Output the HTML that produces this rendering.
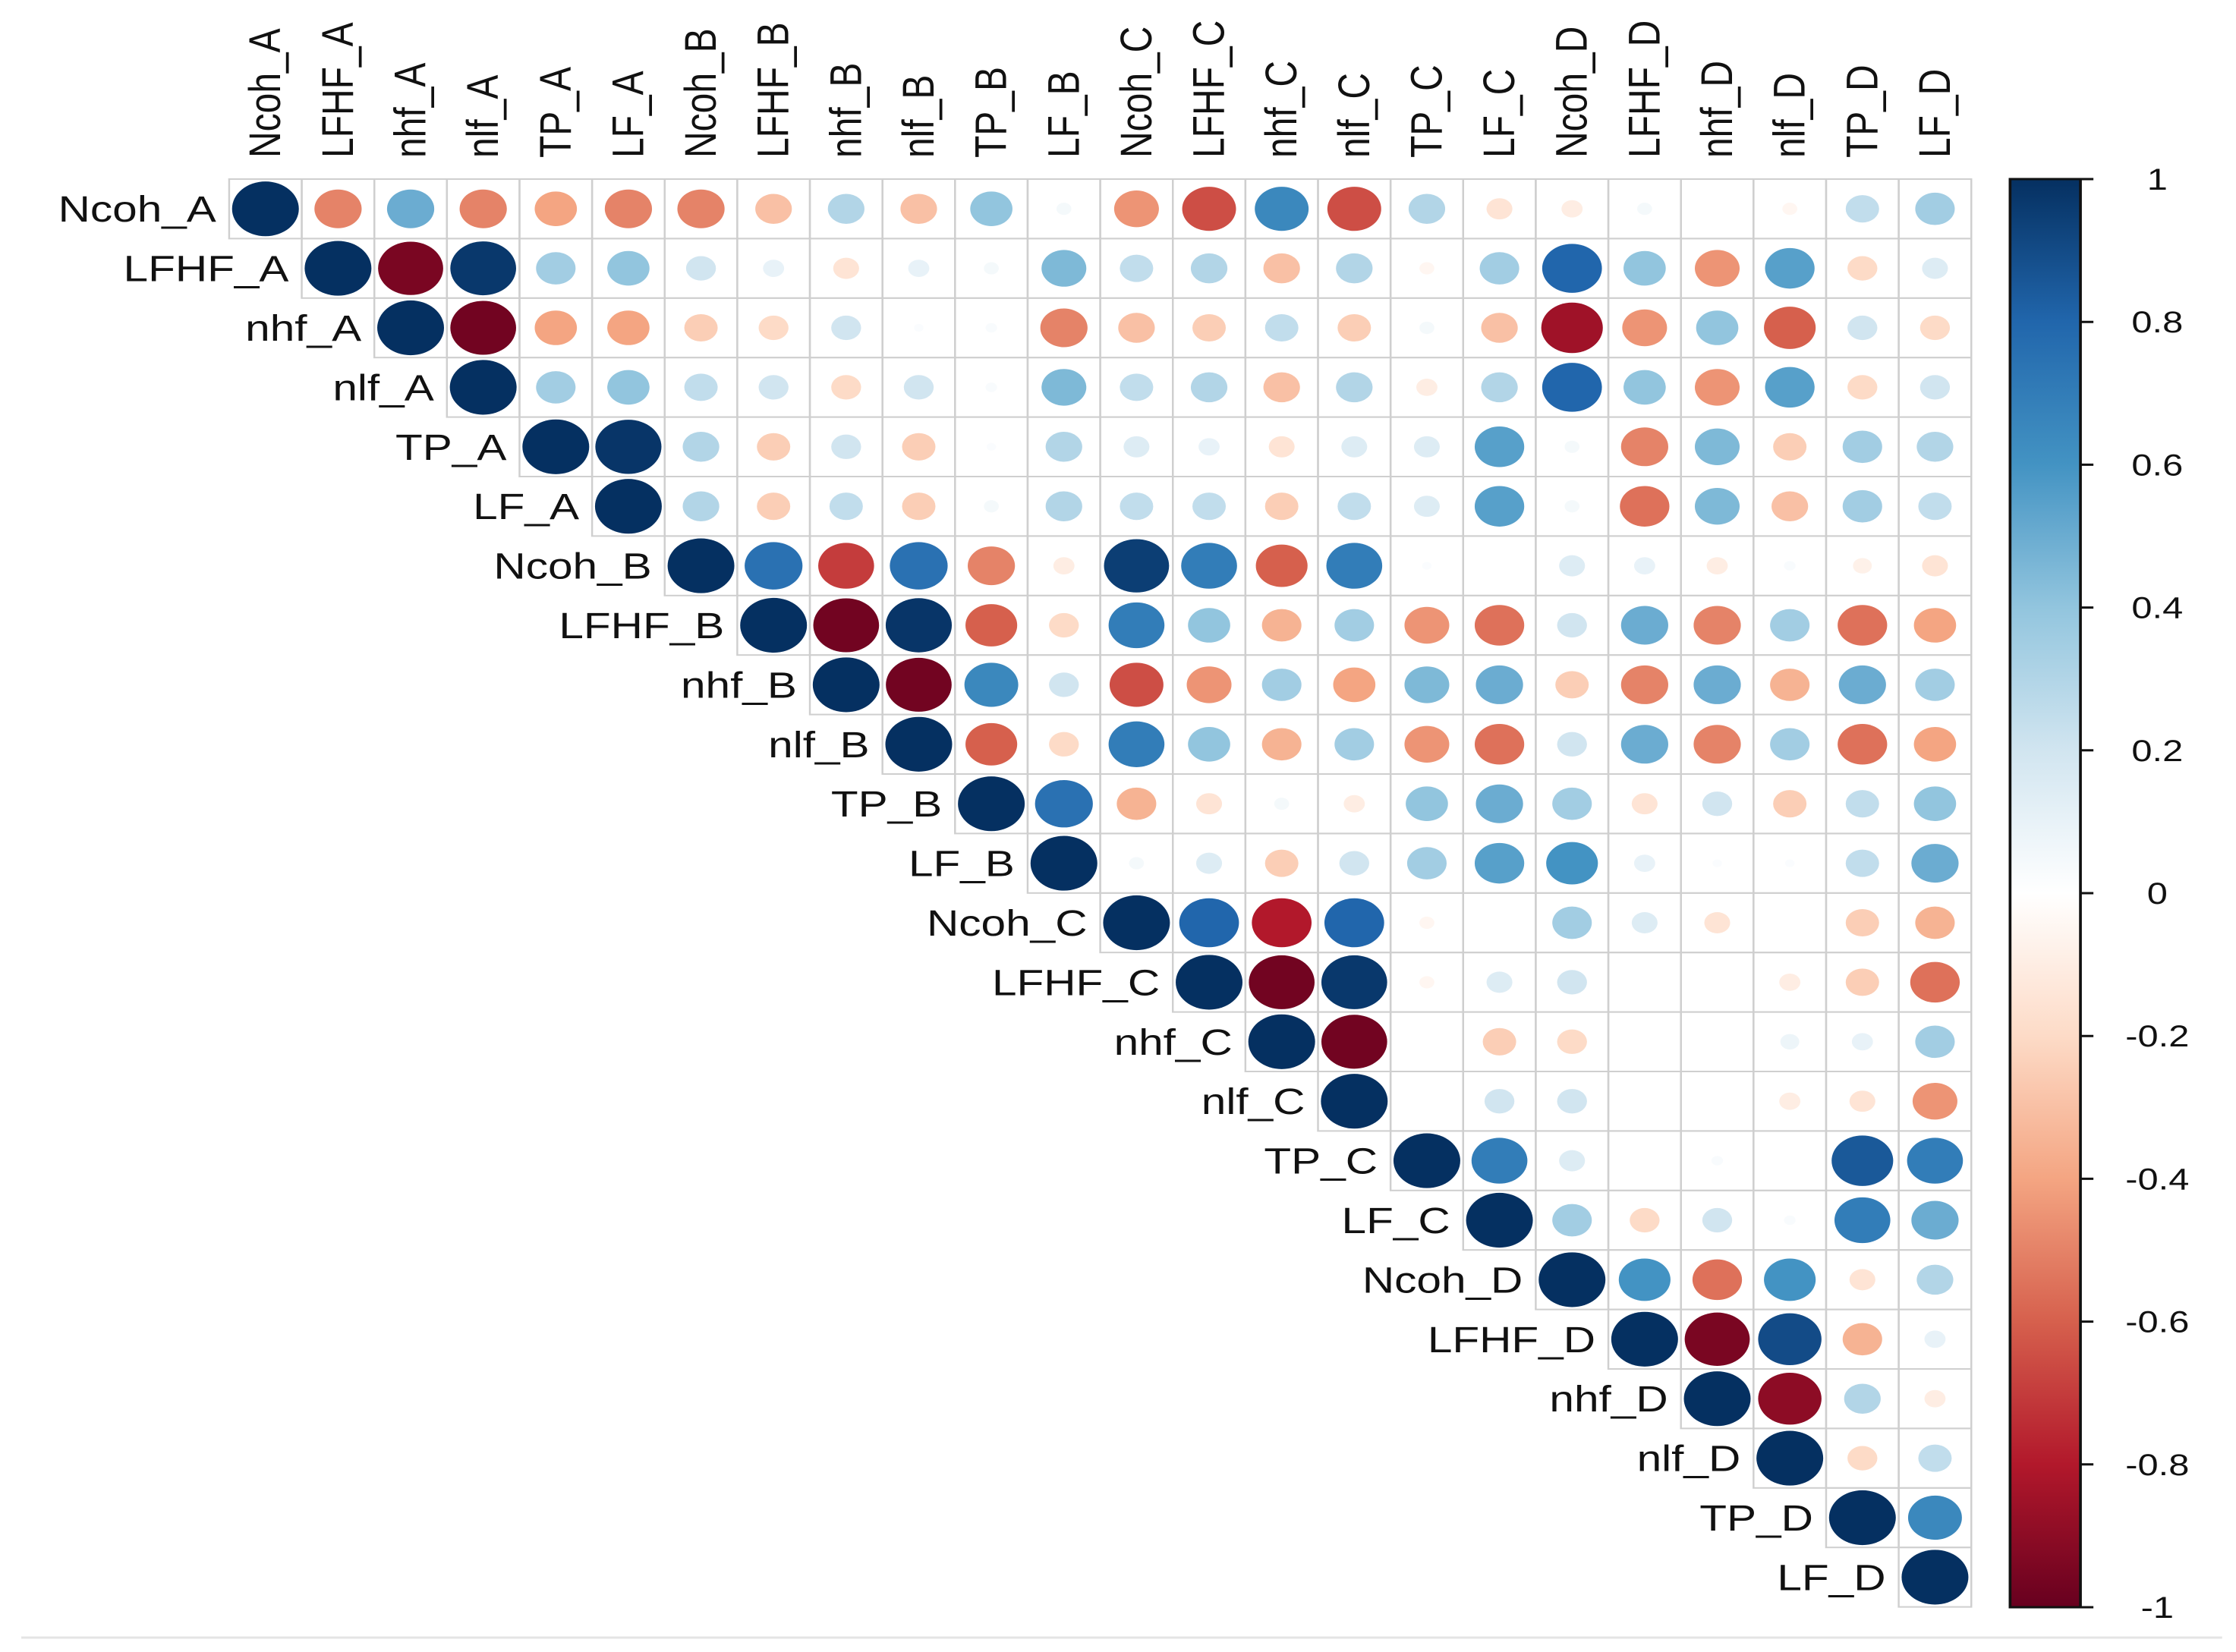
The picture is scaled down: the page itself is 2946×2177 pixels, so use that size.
<!DOCTYPE html>
<html><head><meta charset="utf-8"><style>
html,body{margin:0;padding:0;background:#fff;}
svg{display:block;}
</style></head><body>
<svg id="chart" width="2946" height="2177" viewBox="0 0 2415 2177" preserveAspectRatio="none" xmlns="http://www.w3.org/2000/svg" font-family="Liberation Sans, sans-serif">
<defs>
<linearGradient id="cbgrad" x1="0" y1="1" x2="0" y2="0">
<stop offset="0" stop-color="#67001F"/><stop offset="0.1" stop-color="#B2182B"/><stop offset="0.2" stop-color="#D6604D"/><stop offset="0.3" stop-color="#F4A582"/><stop offset="0.4" stop-color="#FDDBC7"/><stop offset="0.5" stop-color="#FFFFFF"/><stop offset="0.6" stop-color="#D1E5F0"/><stop offset="0.7" stop-color="#92C5DE"/><stop offset="0.8" stop-color="#4393C3"/><stop offset="0.9" stop-color="#2166AC"/><stop offset="1" stop-color="#053061"/>
</linearGradient>
</defs>
<g id="grid"></g>
<g id="marks"></g>
<g id="labels"></g>
<g id="colorbar"></g>
<line x1="23" y1="2158" x2="2400" y2="2158" stroke="#e4e4e4" stroke-width="3"/>
</svg>
<script>
const varNames = ["Ncoh_A","LFHF_A","nhf_A","nlf_A","TP_A","LF_A","Ncoh_B","LFHF_B","nhf_B","nlf_B","TP_B","LF_B","Ncoh_C","LFHF_C","nhf_C","nlf_C","TP_C","LF_C","Ncoh_D","LFHF_D","nhf_D","nlf_D","TP_D","LF_D"];
const row0 = [1,-0.5,0.5,-0.5,-0.4,-0.5,-0.5,-0.3,0.3,-0.3,0.4,0.05,-0.45,-0.65,0.65,-0.65,0.3,-0.15,-0.1,0.05,0,-0.05,0.25,0.35];
const row1 = [1,-0.95,0.97,0.35,0.4,0.2,0.1,-0.15,0.1,0.05,0.45,0.25,0.3,-0.3,0.3,-0.05,0.35,0.8,0.4,-0.45,0.55,-0.2,0.15];
const row2 = [1,-0.97,-0.4,-0.4,-0.25,-0.2,0.2,0.02,0.03,-0.5,-0.3,-0.25,0.25,-0.25,0.05,-0.3,-0.85,-0.45,0.4,-0.6,0.2,-0.2];
const row3 = [1,0.35,0.4,0.25,0.2,-0.2,0.2,0.03,0.45,0.25,0.3,-0.3,0.3,-0.1,0.3,0.8,0.4,-0.45,0.55,-0.2,0.2];
const row4 = [1,0.98,0.3,-0.25,0.2,-0.25,0.02,0.3,0.15,0.1,-0.15,0.15,0.15,0.55,0.05,-0.5,0.45,-0.25,0.35,0.3];
const row5 = [1,0.3,-0.25,0.25,-0.25,0.05,0.3,0.25,0.25,-0.25,0.25,0.15,0.55,0.05,-0.55,0.45,-0.3,0.35,0.25];
const row6 = [1,0.75,-0.7,0.75,-0.5,-0.1,0.95,0.7,-0.6,0.7,0.02,0,0.15,0.1,-0.1,0.03,-0.08,-0.15];
const row7 = [1,-0.97,0.98,-0.6,-0.2,0.7,0.4,-0.35,0.35,-0.45,-0.55,0.2,0.5,-0.5,0.35,-0.55,-0.4];
const row8 = [1,-0.97,0.65,0.2,-0.65,-0.45,0.35,-0.4,0.45,0.5,-0.25,-0.5,0.5,-0.35,0.5,0.35];
const row9 = [1,-0.6,-0.2,0.7,0.4,-0.35,0.35,-0.45,-0.55,0.2,0.5,-0.5,0.35,-0.55,-0.4];
const row10 = [1,0.75,-0.35,-0.15,0.05,-0.1,0.4,0.5,0.35,-0.15,0.2,-0.25,0.25,0.4];
const row11 = [1,0.05,0.15,-0.25,0.2,0.35,0.55,0.6,0.1,0.02,0.02,0.25,0.5];
const row12 = [1,0.8,-0.8,0.8,-0.05,0,0.35,0.15,-0.15,0,-0.25,-0.35];
const row13 = [1,-0.97,0.97,-0.05,0.15,0.2,0,0,-0.1,-0.25,-0.55];
const row14 = [1,-0.97,0,-0.25,-0.2,0,0,0.08,0.1,0.35];
const row15 = [1,0,0.2,0.2,0,0,-0.1,-0.15,-0.45];
const row16 = [1,0.7,0.15,0,0.03,0,0.85,0.7];
const row17 = [1,0.35,-0.2,0.2,0.03,0.7,0.5];
const row18 = [1,0.6,-0.55,0.6,-0.15,0.3];
const row19 = [1,-0.95,0.9,-0.35,0.1];
const row20 = [1,-0.9,0.3,-0.1];
const row21 = [1,-0.2,0.25];
const row22 = [1,0.65];
const row23 = [1];
const rows = [row0,row1,row2,row3,row4,row5,row6,row7,row8,row9,row10,row11,row12,row13,row14,row15,row16,row17,row18,row19,row20,row21,row22,row23];
const cbTicks = [1,0.8,0.6,0.4,0.2,0,-0.2,-0.4,-0.6,-0.8,-1];
const cbTickLabels = ["1","0.8","0.6","0.4","0.2","0","-0.2","-0.4","-0.6","-0.8","-1"];

const NS = "http://www.w3.org/2000/svg";
const gridLeft = 247.5, gridTop = 236, cell = 78.4;
function xPos(j){ return gridLeft + j*cell; }
function yPos(i){ return gridTop + i*cell; }
const pal = ["#67001F","#B2182B","#D6604D","#F4A582","#FDDBC7","#FFFFFF","#D1E5F0","#92C5DE","#4393C3","#2166AC","#053061"];
function hex(h){ return [1,3,5].map(k=>parseInt(h.substr(k,2),16)); }
function colorOf(v){
  const t = (Math.max(-1,Math.min(1,v))+1)/2*10;
  const i = Math.min(9,Math.floor(t)), f = t-i;
  const a = hex(pal[i]), b = hex(pal[i+1]);
  return "rgb("+a.map((c,k)=>Math.round(c+(b[k]-c)*f)).join(",")+")";
}
function mk(tag, attrs, parent){
  const el = document.createElementNS(NS, tag);
  for (const k in attrs) el.setAttribute(k, attrs[k]);
  parent.appendChild(el);
  return el;
}
const gGrid = document.getElementById("grid");
const gMarks = document.getElementById("marks");
const gLabels = document.getElementById("labels");
const gCb = document.getElementById("colorbar");

rows.forEach((vals, i) => {
  vals.forEach((v, k) => {
    const j = i + k;
    const r = mk("rect", {x:xPos(j), y:yPos(i), width:cell, height:cell, fill:"none", stroke:"#cfcfcf", "stroke-width":2}, gGrid);
    
    
    const rad = 0.46*cell*Math.sqrt(Math.abs(v));
    if (rad > 0.5) {
      const c = mk("circle", {cx:xPos(j)+cell/2, cy:yPos(i)+cell/2, r:rad, fill:colorOf(v)}, gMarks);
      
      
    }
  });
});

varNames.forEach((name, i) => {
  const t = mk("text", {x:xPos(i)-14, y:yPos(i)+cell/2+17, "text-anchor":"end", "font-size":48, fill:"#111"}, gLabels);
  t.textContent = name;
  
  
  const cx = xPos(i)+cell/2+16, cy = gridTop-28;
  const c = mk("text", {x:cx, y:cy, "text-anchor":"start", "font-size":48, fill:"#111", transform:"rotate(-90 "+cx+" "+cy+")"}, gLabels);
  c.textContent = name;
  
  
});

const cbX = 2171, cbW = 76, cbTop = 236, cbBot = 2118;
function cbY(v){ return cbBot - (v+1)/2*(cbBot-cbTop); }
const bar = mk("rect", {x:cbX, y:cbTop, width:cbW, height:cbBot-cbTop, fill:"url(#cbgrad)", stroke:"#111", "stroke-width":3}, gCb);


cbTicks.forEach((v, k) => {
  const tk = mk("line", {x1:cbX+cbW, x2:cbX+cbW+14, y1:cbY(v), y2:cbY(v), stroke:"#111", "stroke-width":3}, gCb);
  
  
  const lb = mk("text", {x:2330, y:cbY(v)+14, "text-anchor":"middle", "font-size":40, fill:"#111"}, gCb);
  lb.textContent = cbTickLabels[k];
  
  
});
</script>
</body></html>
